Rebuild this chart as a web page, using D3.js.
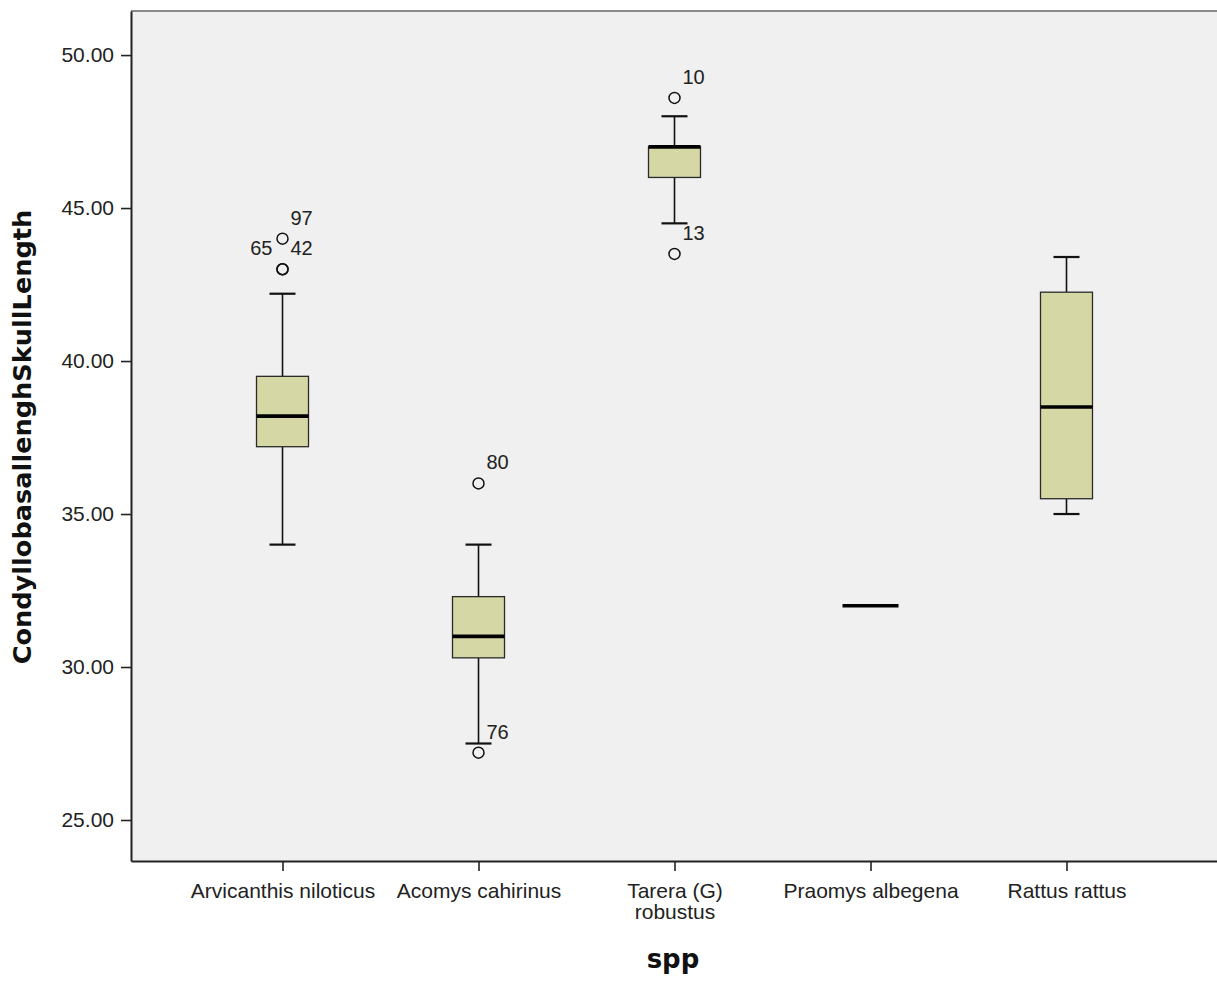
<!DOCTYPE html>
<html>
<head>
<meta charset="utf-8">
<script src="https://cdn.jsdelivr.net/npm/d3@7/dist/d3.min.js"></script>
<style>
  html, body { margin: 0; padding: 0; background: #ffffff; }
  svg { display: block; }
</style>
</head>
<body>
<svg id="chart" width="1217" height="982"></svg>
<script>
// Species groups and the five-number summary of condylobasal skull length for each
const categories = ["Arvicanthis niloticus", "Acomys cahirinus", "Tarera (G) robustus", "Praomys albegena", "Rattus rattus"];
const categoryLabelLines = [["Arvicanthis niloticus"], ["Acomys cahirinus"], ["Tarera (G)", "robustus"], ["Praomys albegena"], ["Rattus rattus"]];
const whiskerLow  = [34.0, 27.5, 44.5, 32.0, 35.0];
const q1          = [37.2, 30.3, 46.0, 32.0, 35.5];
const median      = [38.2, 31.0, 47.0, 32.0, 38.5];
const q3          = [39.5, 32.3, 47.0, 32.0, 42.25];
const whiskerHigh = [42.2, 34.0, 48.0, 32.0, 43.4];

// Outlying cases: species index, value, case number
const outlierGroup = [0, 0, 0, 1, 1, 2, 2];
const outlierValue = [44.0, 43.0, 43.0, 36.0, 27.2, 48.6, 43.5];
const outlierCase  = ["97", "42", "65", "80", "76", "10", "13"];

const yTicks = [25, 30, 35, 40, 45, 50];
const yTitle = "CondyllobasallenghSkullLength";
const xTitle = "spp";

(function draw() {
  const svg = d3.select("#chart");
  const plotLeft = 131, plotRight = 1218, plotTop = 11, plotBottom = 861;

  const x = d3.scalePoint().domain(categories).range([plotLeft, plotRight]).padding(0.773);
  const y = d3.scaleLinear().domain([23.66, 51.44]).range([plotBottom, plotTop]);

  const boxW = 52, capW = 26;
  const fill = "#d5d8a5";

  // plot area background
  svg.append("rect")
    .attr("x", plotLeft).attr("y", plotTop)
    .attr("width", 1217 - plotLeft).attr("height", plotBottom - plotTop)
    .attr("fill", "#f0f0f0");

  // top frame line
  svg.append("line")
    .attr("x1", plotLeft).attr("x2", 1217).attr("y1", plotTop).attr("y2", plotTop)
    .attr("stroke", "#8a8a8a").attr("stroke-width", 2);

  // boxes
  const g = svg.append("g");
  categories.forEach((c, i) => {
    const cx = x(c);
    const gg = g.append("g");
    // whiskers
    gg.append("line").attr("x1", cx).attr("x2", cx)
      .attr("y1", y(whiskerHigh[i])).attr("y2", y(q3[i]))
      .attr("stroke", "#111").attr("stroke-width", 1.6);
    gg.append("line").attr("x1", cx).attr("x2", cx)
      .attr("y1", y(q1[i])).attr("y2", y(whiskerLow[i]))
      .attr("stroke", "#111").attr("stroke-width", 1.6);
    if (whiskerHigh[i] !== whiskerLow[i]) {
      [whiskerHigh[i], whiskerLow[i]].forEach(v => {
        gg.append("line").attr("x1", cx - capW / 2).attr("x2", cx + capW / 2)
          .attr("y1", y(v)).attr("y2", y(v))
          .attr("stroke", "#111").attr("stroke-width", 2.2);
      });
    }
    // box
    if (q3[i] !== q1[i]) {
      gg.append("rect")
        .attr("x", cx - boxW / 2).attr("y", y(q3[i]))
        .attr("width", boxW).attr("height", y(q1[i]) - y(q3[i]))
        .attr("fill", fill).attr("stroke", "#2a2a2a").attr("stroke-width", 1.3);
    }
    // median
    const flat = q3[i] === q1[i];
    gg.append("line")
      .attr("x1", cx - boxW / 2 - (flat ? 2 : 0))
      .attr("x2", cx + boxW / 2 + (flat ? 2 : 0))
      .attr("y1", y(median[i])).attr("y2", y(median[i]))
      .attr("stroke", "#000").attr("stroke-width", 3.6);
  });

  // outliers with case labels
  const placed = [];
  outlierValue.forEach((v, k) => {
    const cx = x(categories[outlierGroup[k]]);
    const cy = y(v);
    g.append("circle").attr("cx", cx).attr("cy", cy).attr("r", 5.5)
      .attr("fill", "none").attr("stroke", "#111").attr("stroke-width", 1.5);
    const key = outlierGroup[k] + ":" + v;
    const second = placed.includes(key);
    placed.push(key);
    g.append("text")
      .attr("x", second ? cx - 10 : cx + 8)
      .attr("y", cy - 21)
      .attr("dy", "0.35em")
      .attr("text-anchor", second ? "end" : "start")
      .attr("font-family", "'Liberation Sans', Arial, sans-serif")
      .attr("font-size", 20)
      .attr("fill", "#222")
      .text(outlierCase[k]);
  });

  // y axis
  const yAxis = svg.append("g")
    .attr("transform", `translate(${plotLeft},0)`)
    .call(d3.axisLeft(y).tickValues(yTicks).tickFormat(d3.format(".2f")).tickSize(10).tickSizeOuter(0).tickPadding(7));
  yAxis.select(".domain").attr("stroke", "#222").attr("stroke-width", 2);
  yAxis.selectAll(".tick line").attr("stroke", "#222").attr("stroke-width", 1.6);
  yAxis.selectAll(".tick text")
    .attr("font-family", "'Liberation Sans', Arial, sans-serif")
    .attr("font-size", 21).attr("fill", "#222");

  // x axis
  const xAxis = svg.append("g")
    .attr("transform", `translate(0,${plotBottom})`)
    .call(d3.axisBottom(x).tickSize(10).tickSizeOuter(0).tickFormat(""));
  xAxis.select(".domain").attr("stroke", "#222").attr("stroke-width", 2.2);
  xAxis.selectAll(".tick line").attr("stroke", "#222").attr("stroke-width", 1.6);
  xAxis.selectAll(".tick").each(function(d, i) {
    const t = d3.select(this).append("text")
      .attr("fill", "#222")
      .attr("text-anchor", "middle")
      .attr("font-family", "'Liberation Sans', Arial, sans-serif")
      .attr("font-size", 21);
    categoryLabelLines[i].forEach((line, j) => {
      t.append("tspan").attr("x", 0).attr("y", 37 + j * 21).text(line);
    });
  });

  // axis titles
  const yt = svg.append("text")
    .attr("transform", "translate(31,437) rotate(-90)")
    .attr("text-anchor", "middle")
    .attr("font-family", "'DejaVu Sans', Verdana, sans-serif")
    .attr("font-weight", "bold")
    .attr("font-size", 25)
    .attr("fill", "#111")
    .text(yTitle);
  // scale the title so it spans 455px along the axis
  const len = yt.node().getComputedTextLength();
  yt.attr("font-size", 25 * 455 / len);

  svg.append("text")
    .attr("x", 673).attr("y", 968)
    .attr("text-anchor", "middle")
    .attr("font-family", "'DejaVu Sans', Verdana, sans-serif")
    .attr("font-weight", "bold")
    .attr("font-size", 26)
    .attr("fill", "#111")
    .text(xTitle);
})();
</script>
</body>
</html>
